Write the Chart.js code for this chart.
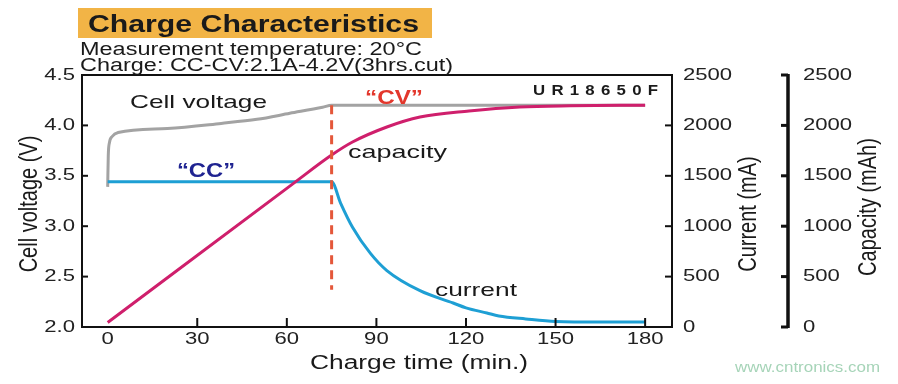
<!DOCTYPE html>
<html>
<head>
<meta charset="utf-8">
<script src="https://cdn.jsdelivr.net/npm/chart.js@4.4.1/dist/chart.umd.min.js"></script>
<style>
  html, body { margin: 0; padding: 0; background: #ffffff; }
  #wrap { width: 898px; height: 384px; }
</style>
</head>
<body>
<div id="wrap"><canvas id="c" width="898" height="384"></canvas></div>
<script>
// ---------------- DATA ----------------
const xTicks = [0, 30, 60, 90, 120, 150, 180];           // Charge time (min.)
const voltTicks = [2.0, 2.5, 3.0, 3.5, 4.0, 4.5];          // Cell voltage (V)
const currentTicks = [0, 500, 1000, 1500, 2000, 2500];     // Current (mA)
const capacityTicks = [0, 500, 1000, 1500, 2000, 2500];    // Capacity (mAh)

// Cell voltage (V)
const voltageTime = [0, 0.2, 0.6, 1.5, 3.5, 20, 38, 50, 61, 72, 75, 180];
const voltage     = [3.39, 3.70, 3.83, 3.89, 3.93, 3.97, 4.02, 4.06, 4.12, 4.18, 4.20, 4.20];

// Current (mA)
const currentTime = [0, 75, 78, 82, 88, 93.5, 104.6, 115.7, 120, 127, 131, 140, 150, 165, 180];
const current     = [1440, 1440, 1230, 990, 730, 560, 360, 238, 190, 139, 110, 80, 55, 50, 50];

// Capacity (mAh)
const capacityTime = [0, 62, 75, 82, 93.5, 104.6, 121, 138, 155, 180];
const capacity     = [44, 1420, 1706, 1835, 1984, 2083, 2143, 2183, 2195, 2200];

// CC -> CV switch marker (dashed line, on voltage axis)
const switchTime = [75, 75];
const switchVolt = [4.2, 2.37];

// ---------------- helpers ----------------
const toPts = (xs, ys) => xs.map((x, i) => ({ x: x, y: ys[i] }));
const FONT = "'Liberation Sans', Arial, Helvetica, sans-serif";

const canvas = document.getElementById('c');
const ctx = canvas.getContext('2d');
const nativeFill = CanvasRenderingContext2D.prototype.fillText;
// the reference artwork is horizontally stretched; mimic that for library-drawn text
const STRETCH = 1.3;
ctx.fillText = function (t, x, y) {
  this.save();
  this.translate(x, y);
  this.scale(STRETCH, 1);
  nativeFill.call(this, t, 0, 0);
  this.restore();
};

function textFit(c, str, x0, x1, base, font, color) {
  c.save();
  c.font = font; c.fillStyle = color; c.textAlign = 'left'; c.textBaseline = 'alphabetic';
  const w = c.measureText(str).width;
  c.translate(x0, base);
  c.scale((x1 - x0) / w, 1);
  nativeFill.call(c, str, 0, 0);
  c.restore();
}
function textSpaced(c, str, x0, x1, base, font, color, sx) {
  c.save();
  c.font = font; c.fillStyle = color; c.textAlign = 'left'; c.textBaseline = 'alphabetic';
  const chars = str.split('');
  const widths = chars.map(ch => c.measureText(ch).width * sx);
  const total = widths.reduce((a, b) => a + b, 0);
  const gap = (x1 - x0 - total) / (chars.length - 1);
  let x = x0;
  chars.forEach((ch, i) => {
    c.save(); c.translate(x, base); c.scale(sx, 1); nativeFill.call(c, ch, 0, 0); c.restore();
    x += widths[i] + gap;
  });
  c.restore();
}
function textVert(c, str, cx, cy, font, color, sx) {
  c.save();
  c.font = font; c.fillStyle = color; c.textAlign = 'center'; c.textBaseline = 'middle';
  c.translate(cx, cy); c.rotate(-Math.PI / 2); c.scale(1, sx);
  nativeFill.call(c, str, 0, 0);
  c.restore();
}
function seg(c, x0, y0, x1, y1) { c.beginPath(); c.moveTo(x0, y0); c.lineTo(x1, y1); c.stroke(); }

// ---------------- decorations plugin ----------------
const decor = {
  id: 'decor',
  afterDraw(chart) {
    const c = chart.ctx, a = chart.chartArea, s = chart.scales;
    c.save();
    // frame
    c.strokeStyle = '#111'; c.lineWidth = 2;
    c.strokeRect(a.left, a.top, a.right - a.left, a.bottom - a.top);
    // inward ticks
    voltTicks.forEach(v => { const y = s.y.getPixelForValue(v); seg(c, a.left, y, a.left + 6, y); });
    currentTicks.forEach(v => { const y = s.yCur.getPixelForValue(v); seg(c, a.right - 7, y, a.right, y); });
    xTicks.filter(v => v > 0).forEach(v => { const x = s.x.getPixelForValue(v); seg(c, x, a.bottom - 9, x, a.bottom); });
    // separate capacity axis
    const cx = s.yCap.left;
    c.lineWidth = 3.5;
    seg(c, cx, s.yCap.getPixelForValue(2500) - 1, cx, s.yCap.getPixelForValue(0) + 1);
    c.lineWidth = 3;
    capacityTicks.forEach(v => { const y = s.yCap.getPixelForValue(v); seg(c, cx - 7, y, cx, y); });
    c.restore();

    // header
    c.save(); c.fillStyle = '#f2b446'; c.fillRect(78, 8, 354, 30); c.restore();
    textFit(c, 'Charge Characteristics', 88, 419, 32, 'bold 23px ' + FONT, '#1a1a1a');
    textFit(c, 'Measurement temperature: 20°C', 80, 422, 55, '18px ' + FONT, '#1a1a1a');
    textFit(c, 'Charge: CC-CV:2.1A-4.2V(3hrs.cut)', 80, 453, 71, '18px ' + FONT, '#1a1a1a');

    // in-plot labels
    textFit(c, 'Cell voltage', 130, 267, 108, '19px ' + FONT, '#1a1a1a');
    textFit(c, '\u201CCC\u201D', 177, 235, 177, 'bold 21px ' + FONT, '#1f2391');
    textFit(c, '\u201CCV\u201D', 365, 423, 104, 'bold 21px ' + FONT, '#e3372c');
    textFit(c, 'capacity', 348, 447, 158, '19px ' + FONT, '#1a1a1a');
    textFit(c, 'current', 435, 517, 296, '19px ' + FONT, '#1a1a1a');
    textSpaced(c, 'UR18650F', 533, 658, 95, 'bold 14px ' + FONT, '#1a1a1a', 1.2);

    // axis titles
    textVert(c, 'Cell voltage (V)', 30, 204, '20px ' + FONT, '#1a1a1a', 1.3);
    textVert(c, 'Current (mA)', 749, 214, '20px ' + FONT, '#1a1a1a', 1.3);
    textVert(c, 'Capacity (mAh)', 869, 207, '20px ' + FONT, '#1a1a1a', 1.3);
    textFit(c, 'Charge time (min.)', 310, 528, 369, '20px ' + FONT, '#1a1a1a');

    // watermark
    textFit(c, 'www.cntronics.com', 735, 880, 372, '15px ' + FONT, '#a6d4b8');
  }
};

// ---------------- chart ----------------
Chart.defaults.font.family = FONT;
const hidden = { display: false, drawTicks: false };
const tickFont = { size: 17 };

new Chart(ctx, {
  type: 'line',
  data: {
    datasets: [
      { label: 'Cell voltage', data: toPts(voltageTime, voltage), yAxisID: 'y',
        borderColor: '#a3a3a3', borderWidth: 3, pointRadius: 0, cubicInterpolationMode: 'monotone', order: 4 },
      { label: 'Current', data: toPts(currentTime, current), yAxisID: 'yCur',
        borderColor: '#1e9fd4', borderWidth: 3, pointRadius: 0, cubicInterpolationMode: 'monotone', order: 3 },
      { label: 'Capacity', data: toPts(capacityTime, capacity), yAxisID: 'yCap',
        borderColor: '#cf1f6c', borderWidth: 3, pointRadius: 0, cubicInterpolationMode: 'monotone', order: 2 },
      { label: 'CC/CV switch', data: toPts(switchTime, switchVolt), yAxisID: 'y',
        borderColor: '#e4573a', borderWidth: 3, borderDash: [9, 6], pointRadius: 0, order: 1 }
    ]
  },
  options: {
    responsive: false,
    animation: false,
    events: [],
    layout: { padding: { top: 75, left: 0, right: 0, bottom: 0 } },
    plugins: { legend: { display: false }, tooltip: { enabled: false } },
    scales: {
      x: {
        type: 'linear', min: -8.6, max: 189,
        afterBuildTicks: sc => { sc.ticks = xTicks.map(v => ({ value: v })); },
        ticks: { font: tickFont, color: '#222', padding: 2, maxRotation: 0, autoSkip: false, callback: v => String(v) },
        grid: hidden, border: { display: false },
        afterFit: sc => { sc.height = 57; }
      },
      y: {
        position: 'left', min: 2, max: 4.5,
        afterBuildTicks: sc => { sc.ticks = voltTicks.map(v => ({ value: v })); },
        ticks: { font: tickFont, color: '#222', padding: 7, callback: v => Number(v).toFixed(1) },
        grid: hidden, border: { display: false },
        afterFit: sc => { sc.width = 82; }
      },
      yCur: {
        position: 'right', min: 0, max: 2500,
        afterBuildTicks: sc => { sc.ticks = currentTicks.map(v => ({ value: v })); },
        ticks: { font: tickFont, color: '#222', padding: 11, callback: v => String(v) },
        grid: hidden, border: { display: false },
        afterFit: sc => { sc.width = 116; }
      },
      yCap: {
        position: 'right', min: 0, max: 2500,
        afterBuildTicks: sc => { sc.ticks = capacityTicks.map(v => ({ value: v })); },
        ticks: { font: tickFont, color: '#222', padding: 15, callback: v => String(v) },
        grid: hidden, border: { display: false },
        afterFit: sc => { sc.width = 110; }
      }
    }
  },
  plugins: [decor]
});
</script>
</body>
</html>
